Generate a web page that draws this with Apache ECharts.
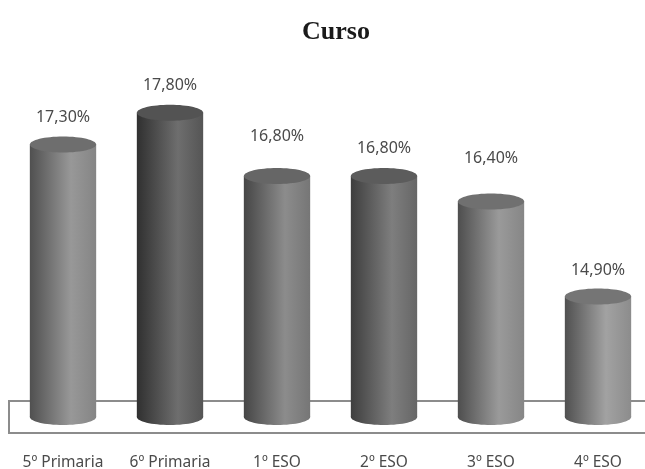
<!DOCTYPE html>
<html>
<head>
<meta charset="utf-8">
<style>html,body{margin:0;background:#fff}#c{width:645px;height:469px}</style>
<script src="https://cdn.jsdelivr.net/npm/echarts@6/dist/echarts.min.js"></script>
</head>
<body>
<div id="c"></div>
<script>
// Share of pupils by school year
const categories = ['5º Primaria', '6º Primaria', '1º ESO', '2º ESO', '3º ESO', '4º ESO'];
const values = [17.3, 17.8, 16.8, 16.8, 16.4, 14.9];

// Cylinder shading per year: [left edge, highlight, right edge, lid]
const shades = [
  ['#505050', '#989898', '#858585', '#6e6e6e'],
  ['#303030', '#6e6e6e', '#555555', '#535353'],
  ['#464646', '#8c8c8c', '#767676', '#666666'],
  ['#3e3e3e', '#7e7e7e', '#666666', '#5c5c5c'],
  ['#4e4e4e', '#9a9a9a', '#868686', '#707070'],
  ['#505050', '#a2a2a2', '#8c8c8c', '#757575']
];
// Distance of each value label above its lid
const labelLift = [27, 27, 40, 28, 43, 26];

const RY = 8;
const LABEL_FONT = '"Noto Sans", "Open Sans", sans-serif';

function bodyFill(s) {
  return new echarts.graphic.LinearGradient(0, 0, 1, 0, [
    { offset: 0, color: s[0] },
    { offset: 0.62, color: s[1] },
    { offset: 1, color: s[2] }
  ]);
}

function drawCylinder(params, api) {
  const i = api.value(0);
  const top = api.coord([i, api.value(1)]);
  const base = api.coord([i, 13]);
  const rx = api.size([1, 0])[0] * 0.31;
  const s = shades[i];
  return {
    type: 'group',
    children: [
      { type: 'ellipse', shape: { cx: base[0], cy: base[1], rx: rx, ry: RY }, style: { fill: bodyFill(s) } },
      { type: 'rect', shape: { x: top[0] - rx, y: top[1], width: rx * 2, height: base[1] - top[1] }, style: { fill: bodyFill(s) } },
      { type: 'ellipse', shape: { cx: top[0], cy: top[1], rx: rx, ry: RY }, style: { fill: s[3] } },
      {
        type: 'text',
        x: top[0],
        y: top[1] - labelLift[i],
        style: {
          text: api.value(1).toFixed(2).replace('.', ',') + '%',
          align: 'center',
          verticalAlign: 'middle',
          fill: '#4a4a4a',
          font: '16px ' + LABEL_FONT
        }
      }
    ]
  };
}

const chart = echarts.init(document.getElementById('c'), null, { renderer: 'canvas' });
chart.setOption({
  animation: false,
  backgroundColor: '#ffffff',
  title: {
    text: 'Curso',
    left: 331,
    top: 14,
    textAlign: 'center',
    textStyle: { fontFamily: '"Liberation Serif", serif', fontWeight: 'bold', fontSize: 26, color: '#1a1a1a' }
  },
  // First and last cylinders sit on the grid edges, so the ticks run edge to edge
  grid: { left: 63, width: 535, top: 100, height: 317, outerBoundsMode: 'none' },
  xAxis: {
    type: 'category',
    boundaryGap: false,
    data: categories,
    axisLine: { show: false },
    axisTick: { show: false },
    axisLabel: { margin: 38, fontFamily: LABEL_FONT, fontSize: 15.5, color: '#4a4a4a', interval: 0, showMinLabel: true, showMaxLabel: true }
  },
  yAxis: { type: 'value', min: 13, max: 18, show: false, splitLine: { show: false } },
  // Floor of the plot, behind the cylinders
  graphic: [{
    type: 'rect',
    z: 1,
    silent: true,
    shape: { x: 9, y: 401, width: 700, height: 32 },
    style: { fill: 'none', stroke: '#8c8c8c', lineWidth: 2 }
  }],
  series: [{
    type: 'custom',
    z: 5,
    renderItem: drawCylinder,
    encode: { x: 0, y: 1 },
    data: values.map((v, i) => [i, v]),
    clip: false
  }]
});
</script>
</body>
</html>
